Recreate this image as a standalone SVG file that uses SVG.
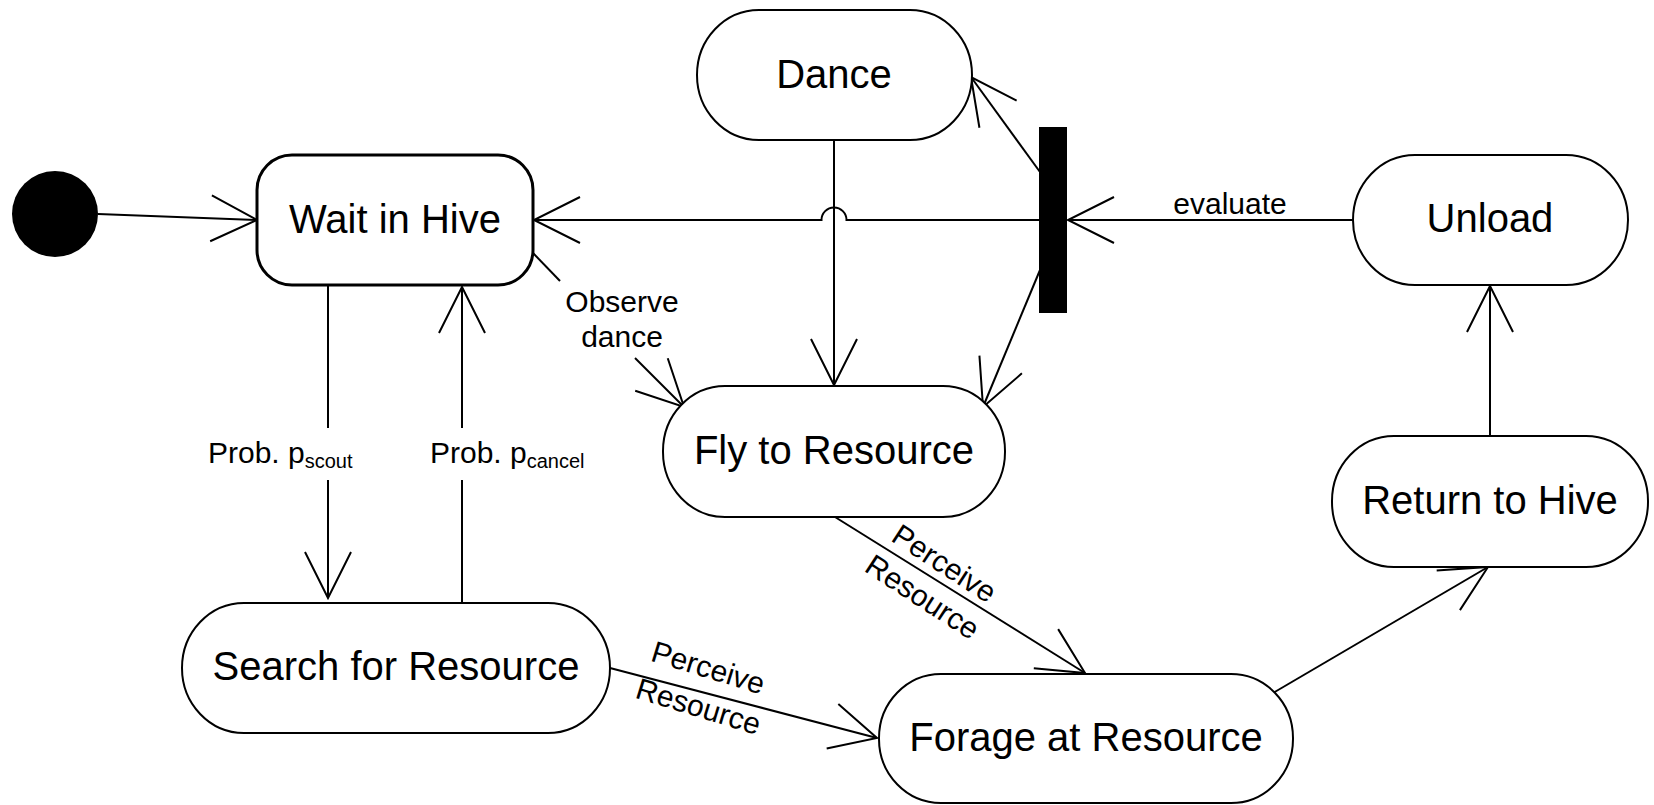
<svg xmlns="http://www.w3.org/2000/svg" width="1654" height="805" viewBox="0 0 1654 805">
  <style>
    .state { fill: #ffffff; stroke: #000000; stroke-width: 2; }
    .state.bold { stroke-width: 3; }
    .name { font-family: "Liberation Sans", Arial, sans-serif; font-size: 40px; fill: #000000; text-anchor: middle; }
    .lbl { font-family: "Liberation Sans", Arial, sans-serif; font-size: 30px; fill: #000000; }
    .mid { text-anchor: middle; }
    .edge { fill: none; stroke: #000000; stroke-width: 2; }
  </style>
  <defs>
    <marker id="open" markerUnits="userSpaceOnUse" markerWidth="60" markerHeight="60" viewBox="-50 -30 60 60" refX="0" refY="0" orient="auto" overflow="visible">
      <path d="M-46,-23 L0,0 L-46,23" fill="none" stroke="#000000" stroke-width="2"/>
    </marker>
  </defs>

  <rect width="1654" height="805" fill="#ffffff"/>

  <!-- connectors -->
  <g id="connectors">
    <!-- initial -> Wait in Hive -->
    <path class="edge" d="M98,214 L257,220" marker-end="url(#open)"/>
    <!-- Wait in Hive -> Search (scout), label gap -->
    <path class="edge" d="M328,285 L328,428"/>
    <path class="edge" d="M328,480 L328,598" marker-end="url(#open)"/>
    <!-- Search -> Wait in Hive (cancel), label gap -->
    <path class="edge" d="M462,603 L462,480"/>
    <path class="edge" d="M462,428 L462,287" marker-end="url(#open)"/>
    <!-- Wait in Hive -> Fly (observe dance), label gap -->
    <path class="edge" d="M533,253 L560,281"/>
    <path class="edge" d="M635,358 L684,407" marker-end="url(#open)"/>
    <!-- Dance -> Fly -->
    <path class="edge" d="M834,140 L834,385" marker-end="url(#open)"/>
    <!-- fork bar -> Wait in Hive, hopping over the Dance line -->
    <path class="edge" d="M1039,220 H846.5 A12.5,12.5 0 0 0 821.5,220 H534" marker-end="url(#open)"/>
    <!-- fork bar -> Dance -->
    <path class="edge" d="M1040,172 L971,77" marker-end="url(#open)"/>
    <!-- fork bar -> Fly -->
    <path class="edge" d="M1040,270 L983,407" marker-end="url(#open)"/>
    <!-- Unload -> fork bar (evaluate) -->
    <path class="edge" d="M1353,220 L1068,220" marker-end="url(#open)"/>
    <!-- Return -> Unload -->
    <path class="edge" d="M1490,436 L1490,286" marker-end="url(#open)"/>
    <!-- Fly -> Forage -->
    <path class="edge" d="M835,517 L1085,673" marker-end="url(#open)"/>
    <!-- Search -> Forage -->
    <path class="edge" d="M610,668 L877,738" marker-end="url(#open)"/>
    <!-- Forage -> Return -->
    <path class="edge" d="M1273,693 L1488,567" marker-end="url(#open)"/>

    <!-- transition labels -->
    <text class="lbl" x="208" y="463">Prob. p<tspan font-size="20" dy="5">scout</tspan></text>
    <text class="lbl" x="430" y="463">Prob. p<tspan font-size="20" dy="5">cancel</tspan></text>
    <text class="lbl mid" x="622" y="312">Observe</text>
    <text class="lbl mid" x="622" y="347">dance</text>
    <text class="lbl mid" x="1230" y="214">evaluate</text>
    <g transform="translate(933,579) rotate(33)">
      <text class="lbl mid" x="1" y="-9">Perceive</text>
      <text class="lbl mid" x="1" y="31">Resource</text>
    </g>
    <g transform="translate(705,692) rotate(17)">
      <text class="lbl mid" x="-4" y="-14">Perceive</text>
      <text class="lbl mid" x="-2" y="26">Resource</text>
    </g>
  </g>

  <!-- initial pseudo-state -->
  <g id="initial">
    <circle cx="55" cy="214" r="43" fill="#000000"/>
  </g>

  <g id="wait-in-hive">
    <rect class="state bold" x="257" y="155" width="276" height="130" rx="35" ry="35"/>
    <text class="name" x="395" y="233" font-size="42">Wait in Hive</text>
  </g>

  <g id="dance">
    <rect class="state" x="697" y="10" width="275" height="130" rx="62" ry="65"/>
    <text class="name" x="834" y="88">Dance</text>
  </g>

  <g id="fork-bar">
    <rect x="1039" y="127" width="28" height="186" fill="#000000"/>
  </g>

  <g id="unload">
    <rect class="state" x="1353" y="155" width="275" height="130" rx="62" ry="65"/>
    <text class="name" x="1490" y="232">Unload</text>
  </g>

  <g id="fly-to-resource">
    <rect class="state" x="663" y="386" width="342" height="131" rx="62" ry="65"/>
    <text class="name" x="834" y="464">Fly to Resource</text>
  </g>

  <g id="return-to-hive">
    <rect class="state" x="1332" y="436" width="316" height="131" rx="62" ry="65"/>
    <text class="name" x="1490" y="514">Return to Hive</text>
  </g>

  <g id="search-for-resource">
    <rect class="state" x="182" y="603" width="428" height="130" rx="62" ry="65"/>
    <text class="name" x="396" y="680">Search for Resource</text>
  </g>

  <g id="forage-at-resource">
    <rect class="state" x="879" y="674" width="414" height="129" rx="62" ry="64"/>
    <text class="name" x="1086" y="751">Forage at Resource</text>
  </g>
</svg>
